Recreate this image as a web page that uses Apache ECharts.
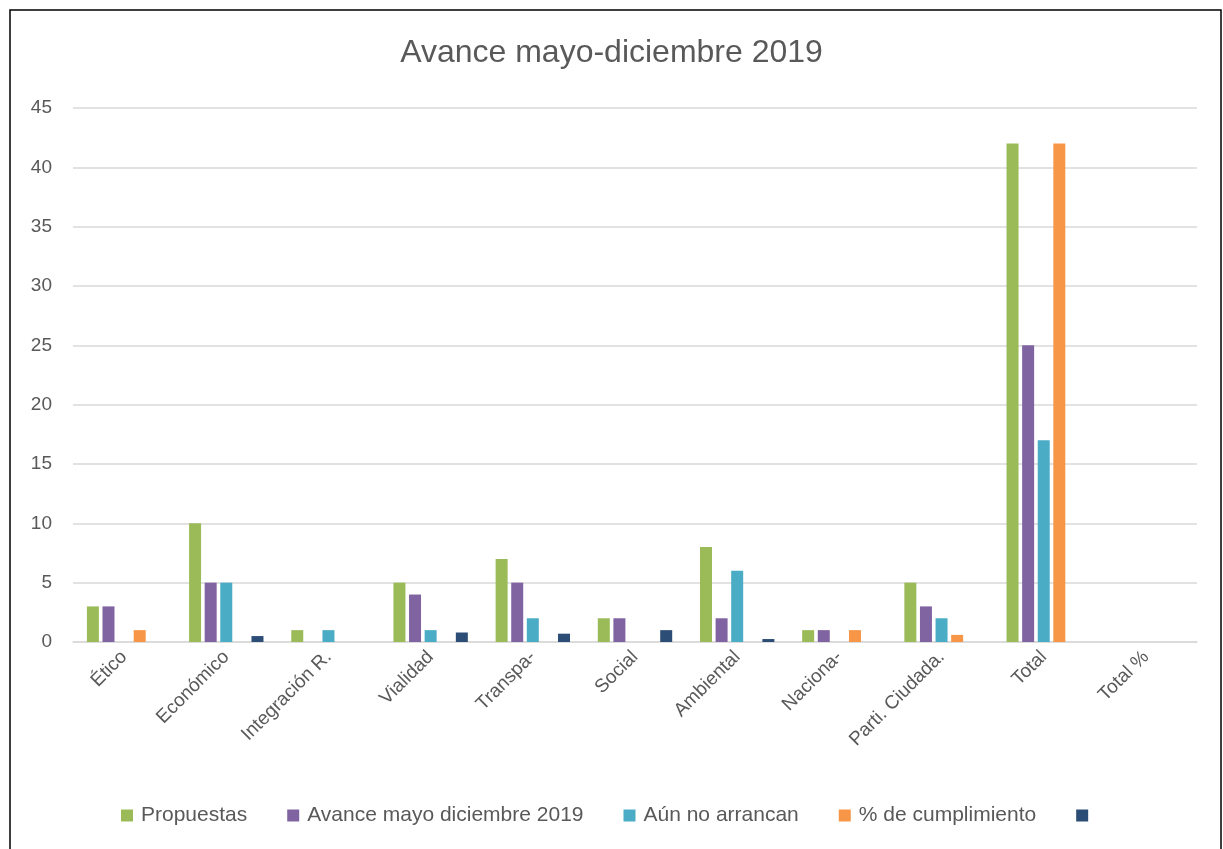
<!DOCTYPE html>
<html>
<head>
<meta charset="utf-8">
<script src="https://cdn.jsdelivr.net/npm/echarts@6/dist/echarts.min.js"></script>
<style>
html,body{margin:0;padding:0;background:#fff;}
#c{width:1223px;height:849px;}
</style>
</head>
<body>
<div id="c"></div>
<script>
const categories = ['Ético','Económico','Integración R.','Vialidad','Transpa-','Social','Ambiental','Naciona-','Parti. Ciudada.','Total','Total %'];
const propuestas = [3,10,1,5,7,2,8,1,5,42,null];
const avance = [3,5,null,4,5,2,2,1,3,25,null];
const aunNo = [null,5,1,1,2,null,6,null,2,17,null];
const cumplimiento = [1,null,null,null,null,null,null,1,0.6,42,null];
const quinta = [null,0.5,null,0.8,0.7,1,0.25,null,null,null,null];
const yTicks = [0,5,10,15,20,25,30,35,40,45];

const seriesNames = ['Propuestas','Avance mayo diciembre 2019','Aún no arrancan','% de cumplimiento',' '];
const seriesData = [propuestas, avance, aunNo, cumplimiento, quinta];
const colors = ['#9BBB59','#8064A2','#4BACC6','#F79646','#2C4D75'];
const FONT = 'Liberation Sans';

const chart = echarts.init(document.getElementById('c'));
chart.setOption({
  animation:false,
  color: colors,
  textStyle:{fontFamily:FONT},
  title:{
    text:'Avance mayo-diciembre 2019',
    left:'center', top:32,
    textStyle:{fontFamily:FONT, fontSize:32, fontWeight:'normal', color:'#595959'}
  },
  graphic:[{type:'rect', shape:{x:10,y:10,width:1211,height:900}, style:{fill:'none', stroke:'#000', lineWidth:1.5}, silent:true}],
  legend:{
    bottom:18, left:'center',
    itemWidth:12, itemHeight:12, itemGap:40,
    icon:'rect',
    textStyle:{fontFamily:FONT, fontSize:21, color:'#595959', padding:[0,0,0,3]},
    data: seriesNames
  },
  grid:{left:73, right:26, top:108, bottom:207},
  xAxis:{
    type:'category',
    data:categories,
    axisTick:{show:false},
    axisLine:{lineStyle:{color:'#d9d9d9', width:1.5}},
    axisLabel:{rotate:45, interval:0, fontFamily:FONT, fontSize:19, color:'#595959', margin:12}
  },
  yAxis:{
    type:'value', min:0, max:45, interval:5,
    axisLine:{show:false}, axisTick:{show:false},
    splitLine:{lineStyle:{color:'#d9d9d9', width:1.5}},
    axisLabel:{fontFamily:FONT, fontSize:19, color:'#595959', margin:21,
      formatter:(v)=> yTicks.includes(v) ? String(v) : ''}
  },
  series: seriesNames.map((n,i)=>({
    name:n, type:'bar', data:seriesData[i],
    barWidth:12, barGap:'30%',
    itemStyle:{color:colors[i]}
  }))
});
</script>
</body>
</html>
